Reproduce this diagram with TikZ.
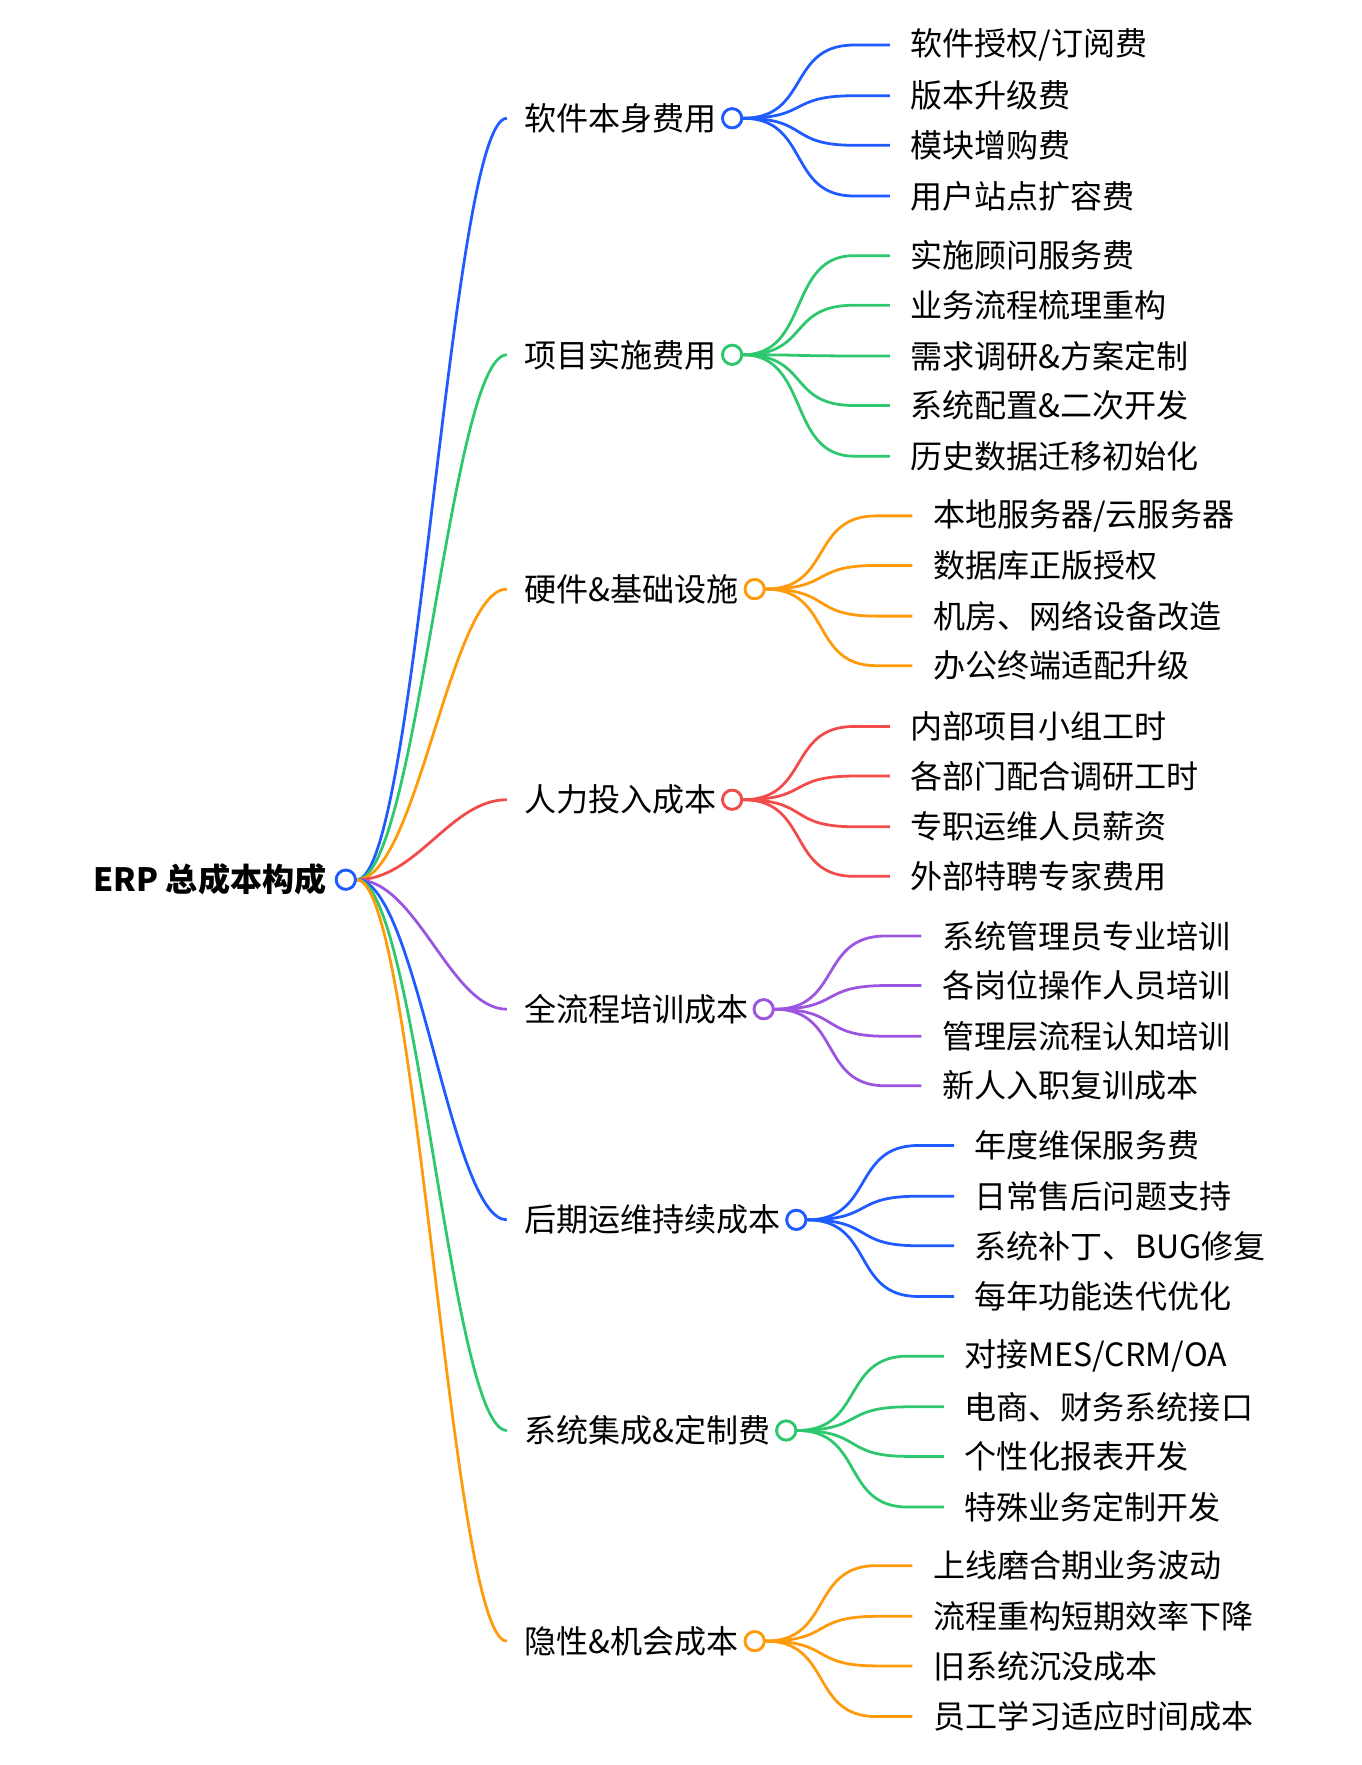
\documentclass[tikz,border=0pt]{standalone}
\usepackage{fontspec}
\setmainfont{Noto Sans CJK SC}
\definecolor{cb}{HTML}{1F5BFF}
\definecolor{cg}{HTML}{2DC76D}
\definecolor{co}{HTML}{FF9A0A}
\definecolor{cr}{HTML}{F24B4B}
\definecolor{cp}{HTML}{9B55E0}
\begin{document}
\begin{tikzpicture}[x=0.02cm,y=-0.02cm,
  txt/.style={anchor=west,inner sep=0pt,font=\fontsize{16.2}{19}\selectfont},
  dot/.style={circle,draw=#1,line width=1.4pt,fill=white,minimum size=0.34cm,inner sep=0pt},
  ln/.style={line width=1.4pt,#1}]
\useasboundingbox (0,0) rectangle (1209,1567);
\node[dot=cb] (root) at (307,781) {};
\node[anchor=east,inner sep=0pt,font=\fontsize{16.2}{19}\selectfont\bfseries] (rt) at (290,781) {ERP 总成本构成};
\foreach \i/\col/\yb/\cx/\lab/\lx/\leaves in {
 1/cb/105/650/软件本身费用/808/{40/{软件授权/订阅费},85/版本升级费,129/模块增购费,174/用户站点扩容费},
 2/cg/315/650/项目实施费用/808/{227/实施顾问服务费,271/业务流程梳理重构,316/需求调研\&方案定制,360/系统配置\&二次开发,405/历史数据迁移初始化},
 3/co/523/670/硬件\&基础设施/828/{458/{本地服务器/云服务器},502/数据库正版授权,547/机房、网络设备改造,591/办公终端适配升级},
 4/cr/710/650/人力投入成本/808/{645/内部项目小组工时,689/各部门配合调研工时,734/专职运维人员薪资,778/外部特聘专家费用},
 5/cp/896/678/全流程培训成本/836/{831/系统管理员专业培训,875/各岗位操作人员培训,920/管理层流程认知培训,964/新人入职复训成本},
 6/cb/1083/707/后期运维持续成本/865/{1017/年度维保服务费,1062/日常售后问题支持,1106/系统补丁、BUG修复,1151/每年功能迭代优化},
 7/cg/1270/698/系统集成\&定制费/856/{1204/{对接MES/CRM/OA},1249/电商、财务系统接口,1293/个性化报表开发,1338/特殊业务定制开发},
 8/co/1457/670/隐性\&机会成本/828/{1390/上线磨合期业务波动,1435/流程重构短期效率下降,1479/旧系统沉没成本,1524/员工学习适应时间成本}}{
  \coordinate (s\i) at (450,\yb);
  \draw[ln=\col] (root.east) .. controls (370,781) and (400,\yb) .. (s\i);
  \node[txt] (b\i) at (465,\yb) {\lab};
  \node[dot=\col] (c\i) at (\cx,\yb) {};
  \foreach \ly/\lt [count=\j] in \leaves {
    \coordinate (e\i-\j) at (\lx-18,\ly);
    \draw[ln=\col] (c\i.east) .. controls ({(\cx+\lx)/2-10},\yb) and ({(\cx+\lx)/2-30},\ly) .. ({\lx-50},\ly) -- (e\i-\j);
    \node[txt] (l\i-\j) at (\lx,\ly) {\lt};
  }
  \node[dot=\col] at (c\i) {};
}
\node[dot=cb] at (root) {};
\end{tikzpicture}
\end{document}
